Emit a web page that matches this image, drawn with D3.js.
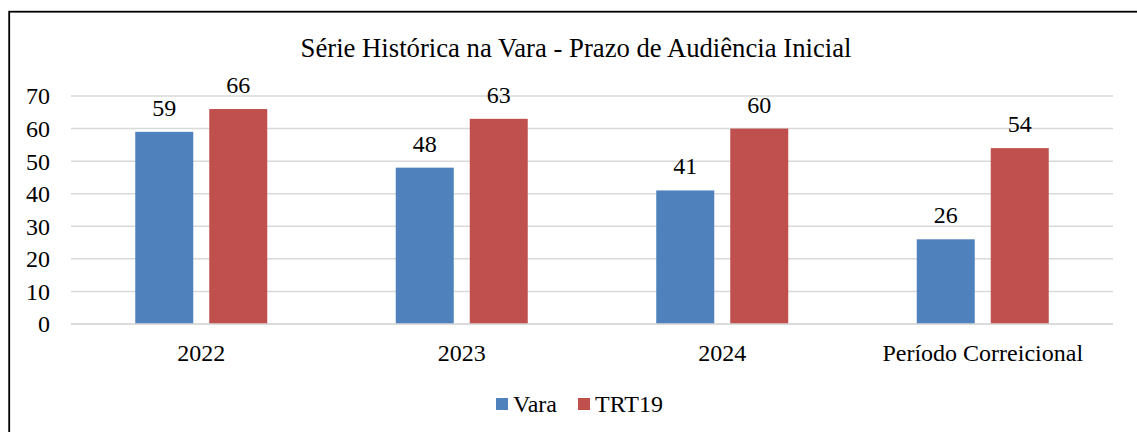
<!DOCTYPE html>
<html><head><meta charset="utf-8">
<script src="https://cdn.jsdelivr.net/npm/d3@7"></script>
<style>html,body{margin:0;padding:0;background:#fff;}svg{display:block;}
svg text{font-family:"Liberation Serif";}</style>
</head><body>
<svg id="c" width="1137" height="432"></svg>
<script>
const categories = ["2022", "2023", "2024", "Período Correicional"];
const seriesNames = ["Vara", "TRT19"];
const vara = [59, 48, 41, 26];
const trt19 = [66, 63, 60, 54];
const yTicks = [0, 10, 20, 30, 40, 50, 60, 70];
const colors = ["#4F81BD", "#C0504D"];
const title = "Série Histórica na Vara - Prazo de Audiência Inicial";

(function(){
const svg = d3.select("#c");
const txt = (sel, size) => sel.style("font-family", '"Liberation Serif"').style("font-size", size + "px").attr("fill", "#000");

svg.append("rect").attr("x", 9.2).attr("y", 11.7).attr("width", 1140).attr("height", 440)
  .attr("fill", "#fff").attr("stroke", "#000").attr("stroke-width", 1.8);

const pl = 71, pr = 1113, pt = 96, pb = 324;
const y = d3.scaleLinear().domain([0, 70]).range([pb, pt]);
const x0 = d3.scaleBand().domain(categories).range([pl, pr]).paddingInner(0).paddingOuter(0);
const x1 = d3.scaleBand().domain(seriesNames).range([0, 132]).paddingInner(16/74);

txt(svg.append("text").attr("x", 576).attr("y", 57).attr("text-anchor", "middle"), 26.7).text(title);

const g = svg.append("g");
g.selectAll("line.grid").data(yTicks).enter().append("line")
  .attr("x1", pl).attr("x2", pr).attr("y1", d => y(d)).attr("y2", d => y(d))
  .attr("stroke", "#d9d9d9").attr("stroke-width", 1.5);

txt(g.selectAll("text.yt").data(yTicks).enter().append("text")
  .attr("x", 50).attr("y", d => y(d)).attr("dy", "0.35em").attr("text-anchor", "end"), 24).text(d => d);

const data = categories.map((c, i) => ({c, vals: [vara[i], trt19[i]]}));
const grp = g.selectAll("g.cat").data(data).enter().append("g")
  .attr("transform", d => `translate(${x0(d.c) + x0.bandwidth()/2 - 66},0)`);
grp.selectAll("rect").data(d => d.vals.map((v, j) => ({s: seriesNames[j], v, j}))).enter().append("rect")
  .attr("x", d => x1(d.s)).attr("width", x1.bandwidth())
  .attr("y", d => y(d.v)).attr("height", d => y(0) - y(d.v))
  .attr("fill", d => colors[d.j]);
txt(grp.selectAll("text").data(d => d.vals.map((v, j) => ({s: seriesNames[j], v, j}))).enter().append("text")
  .attr("x", d => x1(d.s) + x1.bandwidth()/2).attr("y", d => y(d.v) - 16)
  .attr("text-anchor", "middle"), 24).text(d => d.v);

g.append("line").attr("x1", pl).attr("x2", pr).attr("y1", y(0)).attr("y2", y(0))
  .attr("stroke", "#d9d9d9").attr("stroke-width", 1.5);

txt(g.selectAll("text.cat").data(categories).enter().append("text")
  .attr("x", d => x0(d) + x0.bandwidth()/2).attr("y", 361).attr("text-anchor", "middle"), 24).text(d => d);

const leg = svg.append("g");
const legX = [496, 578];
seriesNames.forEach((s, i) => {
  leg.append("rect").attr("x", legX[i]).attr("y", 398).attr("width", 12).attr("height", 12).attr("fill", colors[i]);
  txt(leg.append("text").attr("x", legX[i] + 17).attr("y", 412), 24).text(s);
});
})();
</script>
</body></html>
